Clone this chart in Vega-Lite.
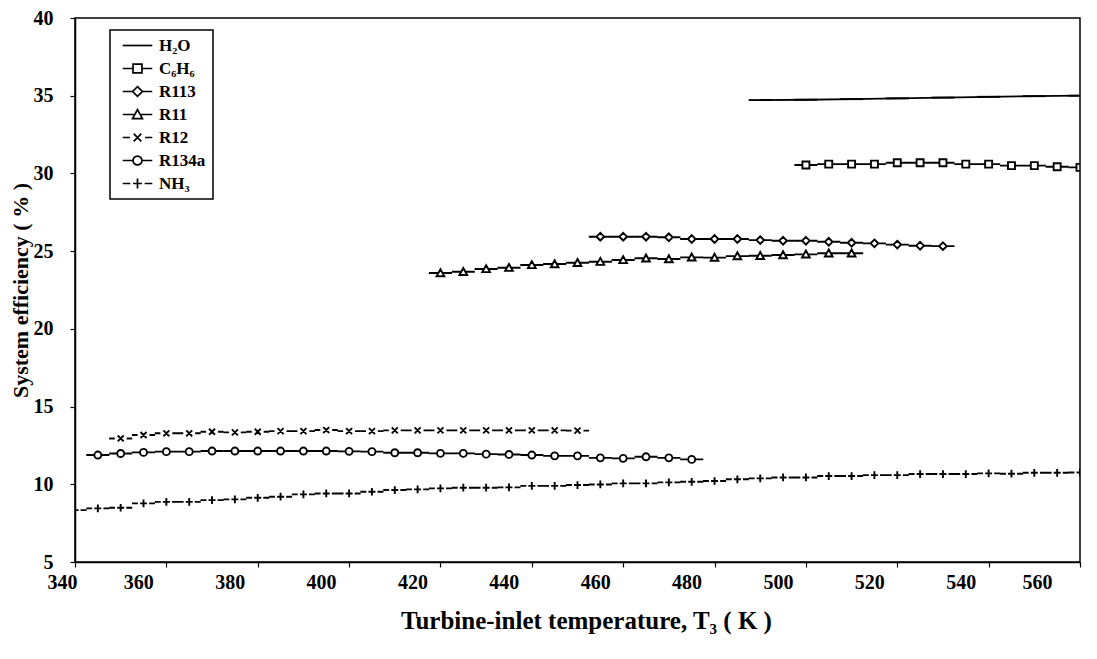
{
  "$schema": "https://vega.github.io/schema/vega-lite/v6.json",
  "width": 1005,
  "height": 544,
  "autosize": {"type": "none"},
  "padding": {"left": 75, "top": 18, "right": 17, "bottom": 97},
  "background": "white",
  "config": {
    "view": {"stroke": "black", "strokeWidth": 1.5},
    "font": "Liberation Serif",
    "axis": {"grid": false, "domainColor": "black", "domainWidth": 1.5, "tickColor": "black", "tickWidth": 1.2, "tickSize": 5,
      "labelFont": "Liberation Serif", "labelFontWeight": "bold", "labelFontSize": 20, "labelColor": "black",
      "titleFont": "Liberation Serif", "titleFontWeight": "bold", "titleFontSize": 22, "titleColor": "black"},
    "legend": {"strokeWidth": 1.5}
  },
  "data": {"values": [
    {"s": "H2O", "T": 490, "e": 34.72}, {"s": "H2O", "T": 500, "e": 34.74}, {"s": "H2O", "T": 510, "e": 34.78}, {"s": "H2O", "T": 520, "e": 34.83},
    {"s": "H2O", "T": 530, "e": 34.88}, {"s": "H2O", "T": 540, "e": 34.93}, {"s": "H2O", "T": 550, "e": 34.97}, {"s": "H2O", "T": 560, "e": 35.0},
    {"s": "C6H6", "T": 500, "e": 30.54}, {"s": "C6H6", "T": 505, "e": 30.6}, {"s": "C6H6", "T": 510, "e": 30.6}, {"s": "C6H6", "T": 515, "e": 30.6},
    {"s": "C6H6", "T": 520, "e": 30.69}, {"s": "C6H6", "T": 525, "e": 30.69}, {"s": "C6H6", "T": 530, "e": 30.69}, {"s": "C6H6", "T": 535, "e": 30.6},
    {"s": "C6H6", "T": 540, "e": 30.6}, {"s": "C6H6", "T": 545, "e": 30.5}, {"s": "C6H6", "T": 550, "e": 30.5}, {"s": "C6H6", "T": 555, "e": 30.43},
    {"s": "C6H6", "T": 560, "e": 30.39},
    {"s": "R113", "T": 455, "e": 25.93}, {"s": "R113", "T": 460, "e": 25.93}, {"s": "R113", "T": 465, "e": 25.93}, {"s": "R113", "T": 470, "e": 25.89},
    {"s": "R113", "T": 475, "e": 25.78}, {"s": "R113", "T": 480, "e": 25.78}, {"s": "R113", "T": 485, "e": 25.78}, {"s": "R113", "T": 490, "e": 25.71},
    {"s": "R113", "T": 495, "e": 25.67}, {"s": "R113", "T": 500, "e": 25.67}, {"s": "R113", "T": 505, "e": 25.6}, {"s": "R113", "T": 510, "e": 25.54},
    {"s": "R113", "T": 515, "e": 25.5}, {"s": "R113", "T": 520, "e": 25.42}, {"s": "R113", "T": 525, "e": 25.35}, {"s": "R113", "T": 530, "e": 25.32},
    {"s": "R11", "T": 420, "e": 23.59}, {"s": "R11", "T": 425, "e": 23.67}, {"s": "R11", "T": 430, "e": 23.85}, {"s": "R11", "T": 435, "e": 23.93},
    {"s": "R11", "T": 440, "e": 24.11}, {"s": "R11", "T": 445, "e": 24.17}, {"s": "R11", "T": 450, "e": 24.25}, {"s": "R11", "T": 455, "e": 24.32},
    {"s": "R11", "T": 460, "e": 24.43}, {"s": "R11", "T": 465, "e": 24.54}, {"s": "R11", "T": 470, "e": 24.49}, {"s": "R11", "T": 475, "e": 24.6},
    {"s": "R11", "T": 480, "e": 24.58}, {"s": "R11", "T": 485, "e": 24.68}, {"s": "R11", "T": 490, "e": 24.7}, {"s": "R11", "T": 495, "e": 24.75},
    {"s": "R11", "T": 500, "e": 24.79}, {"s": "R11", "T": 505, "e": 24.86}, {"s": "R11", "T": 510, "e": 24.86},
    {"s": "R12", "T": 350, "e": 12.95}, {"s": "R12", "T": 355, "e": 13.17}, {"s": "R12", "T": 360, "e": 13.28}, {"s": "R12", "T": 365, "e": 13.28},
    {"s": "R12", "T": 370, "e": 13.38}, {"s": "R12", "T": 375, "e": 13.34}, {"s": "R12", "T": 380, "e": 13.38}, {"s": "R12", "T": 385, "e": 13.42},
    {"s": "R12", "T": 390, "e": 13.42}, {"s": "R12", "T": 395, "e": 13.49}, {"s": "R12", "T": 400, "e": 13.42}, {"s": "R12", "T": 405, "e": 13.42},
    {"s": "R12", "T": 410, "e": 13.47}, {"s": "R12", "T": 415, "e": 13.47}, {"s": "R12", "T": 420, "e": 13.47}, {"s": "R12", "T": 425, "e": 13.47},
    {"s": "R12", "T": 430, "e": 13.47}, {"s": "R12", "T": 435, "e": 13.47}, {"s": "R12", "T": 440, "e": 13.47}, {"s": "R12", "T": 445, "e": 13.47},
    {"s": "R12", "T": 450, "e": 13.45},
    {"s": "R134a", "T": 345, "e": 11.88}, {"s": "R134a", "T": 350, "e": 11.98}, {"s": "R134a", "T": 355, "e": 12.05}, {"s": "R134a", "T": 360, "e": 12.1},
    {"s": "R134a", "T": 365, "e": 12.1}, {"s": "R134a", "T": 370, "e": 12.14}, {"s": "R134a", "T": 375, "e": 12.14}, {"s": "R134a", "T": 380, "e": 12.14},
    {"s": "R134a", "T": 385, "e": 12.14}, {"s": "R134a", "T": 390, "e": 12.14}, {"s": "R134a", "T": 395, "e": 12.14}, {"s": "R134a", "T": 400, "e": 12.12},
    {"s": "R134a", "T": 405, "e": 12.1}, {"s": "R134a", "T": 410, "e": 12.03}, {"s": "R134a", "T": 415, "e": 12.03}, {"s": "R134a", "T": 420, "e": 11.99},
    {"s": "R134a", "T": 425, "e": 11.99}, {"s": "R134a", "T": 430, "e": 11.94}, {"s": "R134a", "T": 435, "e": 11.92}, {"s": "R134a", "T": 440, "e": 11.88},
    {"s": "R134a", "T": 445, "e": 11.83}, {"s": "R134a", "T": 450, "e": 11.83}, {"s": "R134a", "T": 455, "e": 11.7}, {"s": "R134a", "T": 460, "e": 11.67},
    {"s": "R134a", "T": 465, "e": 11.77}, {"s": "R134a", "T": 470, "e": 11.7}, {"s": "R134a", "T": 475, "e": 11.6},
    {"s": "NH3", "T": 340, "e": 8.34}, {"s": "NH3", "T": 345, "e": 8.45}, {"s": "NH3", "T": 350, "e": 8.49}, {"s": "NH3", "T": 355, "e": 8.77},
    {"s": "NH3", "T": 360, "e": 8.87}, {"s": "NH3", "T": 365, "e": 8.87}, {"s": "NH3", "T": 370, "e": 8.98}, {"s": "NH3", "T": 375, "e": 9.03},
    {"s": "NH3", "T": 380, "e": 9.13}, {"s": "NH3", "T": 385, "e": 9.2}, {"s": "NH3", "T": 390, "e": 9.35}, {"s": "NH3", "T": 395, "e": 9.41},
    {"s": "NH3", "T": 400, "e": 9.41}, {"s": "NH3", "T": 405, "e": 9.52}, {"s": "NH3", "T": 410, "e": 9.63}, {"s": "NH3", "T": 415, "e": 9.67},
    {"s": "NH3", "T": 420, "e": 9.74}, {"s": "NH3", "T": 425, "e": 9.78}, {"s": "NH3", "T": 430, "e": 9.78}, {"s": "NH3", "T": 435, "e": 9.8},
    {"s": "NH3", "T": 440, "e": 9.9}, {"s": "NH3", "T": 445, "e": 9.9}, {"s": "NH3", "T": 450, "e": 9.95}, {"s": "NH3", "T": 455, "e": 9.99},
    {"s": "NH3", "T": 460, "e": 10.06}, {"s": "NH3", "T": 465, "e": 10.06}, {"s": "NH3", "T": 470, "e": 10.12}, {"s": "NH3", "T": 475, "e": 10.16},
    {"s": "NH3", "T": 480, "e": 10.21}, {"s": "NH3", "T": 485, "e": 10.32}, {"s": "NH3", "T": 490, "e": 10.38}, {"s": "NH3", "T": 495, "e": 10.44},
    {"s": "NH3", "T": 500, "e": 10.44}, {"s": "NH3", "T": 505, "e": 10.53}, {"s": "NH3", "T": 510, "e": 10.53}, {"s": "NH3", "T": 515, "e": 10.59},
    {"s": "NH3", "T": 520, "e": 10.59}, {"s": "NH3", "T": 525, "e": 10.66}, {"s": "NH3", "T": 530, "e": 10.66}, {"s": "NH3", "T": 535, "e": 10.66},
    {"s": "NH3", "T": 540, "e": 10.7}, {"s": "NH3", "T": 545, "e": 10.68}, {"s": "NH3", "T": 550, "e": 10.74}, {"s": "NH3", "T": 555, "e": 10.74},
    {"s": "NH3", "T": 560, "e": 10.76}
  ]},
  "encoding": {
    "x": {"field": "T", "type": "quantitative",
      "scale": {"domain": [340, 560], "nice": false, "zero": false},
      "axis": {"title": "Turbine-inlet temperature, T₃ ( K )", "values": [340, 360, 380, 400, 420, 440, 460, 480, 500, 520, 540, 560],
        "labelOffset": -28, "labelPadding": 5, "titlePadding": 16, "titleFontSize": 25, "titleX": 511}},
    "y": {"field": "e", "type": "quantitative",
      "scale": {"domain": [5, 40], "nice": false, "zero": false},
      "axis": {"title": "System efficiency ( % )", "values": [5, 10, 15, 20, 25, 30, 35, 40], "labelPadding": 17, "titlePadding": 1}}
  },
  "layer": [
    {
      "transform": [{"filter": "datum.s == 'H2O'"}],
      "mark": {"type": "line", "stroke": "black", "strokeWidth": 1.8},
      "encoding": {}
    },
    {
      "mark": {"type": "point", "color": "black", "strokeWidth": 1.9, "size": 49, "opacity": 1, "clip": true},
      "encoding": {
        "shape": {"field": "s", "type": "nominal",
          "scale": {"domain": ["H2O", "C6H6", "R113", "R11", "R12", "R134a", "NH3"],
            "range": [
              "M-3.3,0H3.3",
              "M-3.3,0H-1M1,0H3.3M-1,-1H1V1H-1Z",
              "M-3.3,0H-1.1M1.1,0H3.3M0,-1.1L1.1,0L0,1.1L-1.1,0Z",
              "M-3.3,0H-0.55M0.55,0H3.3M0,-1.1L1.1,0.9H-1.1Z",
              "M-3.3,0H-1.7M1.7,0H3.3M-0.85,-0.85L0.85,0.85M-0.85,0.85L0.85,-0.85",
              "M-3.3,0H-1M1,0H3.3M-1,0A1,1 0 1,0 1,0A1,1 0 1,0 -1,0Z",
              "M-3.3,0H-1.6M1.6,0H3.3M-1,0H1M0,-1.1V1.1"
            ]},
          "legend": {"title": null, "orient": "none", "legendX": 35, "legendY": 12,
            "labelExpr": "{'H2O':'H₂O','C6H6':'C₆H₆','NH3':'NH₃'}[datum.label] || datum.label",
            "strokeColor": "black", "fillColor": "white", "padding": 7,
            "labelFont": "Liberation Serif", "labelFontWeight": "bold", "labelFontSize": 17, "labelColor": "black",
            "symbolSize": 80, "symbolStrokeWidth": 1.7,
            "symbolOffset": 12, "labelOffset": 13, "rowPadding": 5}}
      }
    }
  ]
}
